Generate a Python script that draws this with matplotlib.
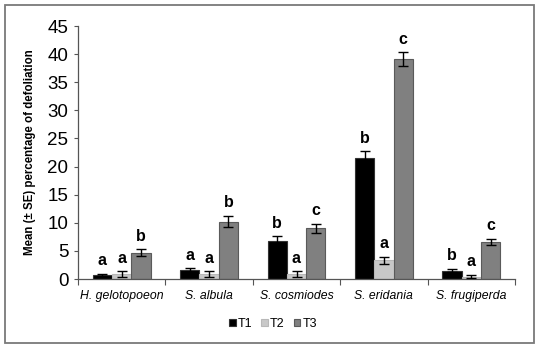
import matplotlib
matplotlib.use("Agg")
import matplotlib.pyplot as plt
from matplotlib.patches import Rectangle
import numpy as np

plt.rcParams['font.family'] = ['Liberation Sans', 'DejaVu Sans']

species = ["H. gelotopoeon", "S. albula", "S. cosmiodes", "S. eridania", "S. frugiperda"]
treatments = ["T1", "T2", "T3"]
t1 = [0.7, 1.6, 6.7, 21.6, 1.5]
t2 = [0.9, 0.9, 0.9, 3.3, 0.4]
t3 = [4.7, 10.2, 9.0, 39.1, 6.6]
t1_se = [0.2, 0.3, 0.9, 1.1, 0.3]
t2_se = [0.5, 0.5, 0.5, 0.6, 0.3]
t3_se = [0.6, 1.0, 0.8, 1.2, 0.6]
t1_letters = ["a", "a", "b", "b", "b"]
t2_letters = ["a", "a", "a", "a", "a"]
t3_letters = ["b", "b", "c", "c", "c"]

values = [t1, t2, t3]
errors = [t1_se, t2_se, t3_se]
letters = [t1_letters, t2_letters, t3_letters]
colors = ["#000000", "#c8c8c8", "#808080"]
edges = ["#333333", "#b8b8b8", "#5a5a5a"]

W, H = 541, 351
fig = plt.figure(figsize=(W / 100, H / 100), dpi=100)
fig.patches.append(Rectangle((5 / W, 8 / H), 529 / W, 338 / H, transform=fig.transFigure,
                             fill=False, edgecolor="#7a7a7a", linewidth=1.3))
ax = fig.add_axes([78 / W, 72 / H, 437 / W, 253 / H])

x = np.arange(len(species))
bw = 0.22
for i in range(3):
    pos = x + (i - 1) * bw
    ax.bar(pos, values[i], width=bw, color=colors[i], edgecolor=edges[i], linewidth=0.8,
           label=treatments[i], zorder=2)
    ax.errorbar(pos, values[i], yerr=errors[i], fmt="none", ecolor="black",
                elinewidth=1.0, capsize=3.5, capthick=1.0, zorder=3)
    for p, v, e, l in zip(pos, values[i], errors[i], letters[i]):
        ax.text(p, v + e + 1.0, l, ha="center", va="bottom", fontsize=11.5,
                fontweight="bold")

ax.set_xlim(-0.5, len(species) - 0.5)
ax.set_ylim(0, 45)
ax.set_yticks(np.arange(0, 46, 5))
ax.set_xticks(np.arange(-0.5, len(species), 1.0))
ax.set_xticklabels([])
ax.set_xticks(x, minor=True)
ax.set_xticklabels(species, minor=True, fontstyle="italic", fontsize=8.8)
ax.tick_params(axis="x", which="minor", length=0, pad=8)
ax.tick_params(axis="x", which="major", length=4, color="#555555", direction="out")
ax.tick_params(axis="y", length=3, color="#555555", labelsize=13.5, pad=4)
for s in ["top", "right"]:
    ax.spines[s].set_visible(False)
for s in ["left", "bottom"]:
    ax.spines[s].set_color("#555555")
    ax.spines[s].set_linewidth(0.9)
ax.set_ylabel("Mean (\u00b1 SE) percentage of defoliation", fontsize=8.3,
              fontweight="bold", labelpad=8)

leg = fig.legend(loc="center", bbox_to_anchor=(273 / W, 1 - 324 / H), ncol=3, frameon=False,
                 fontsize=9, handlelength=0.5, handleheight=0.5, handletextpad=0.2,
                 columnspacing=0.7)
fig.savefig("out.png", dpi=100)
